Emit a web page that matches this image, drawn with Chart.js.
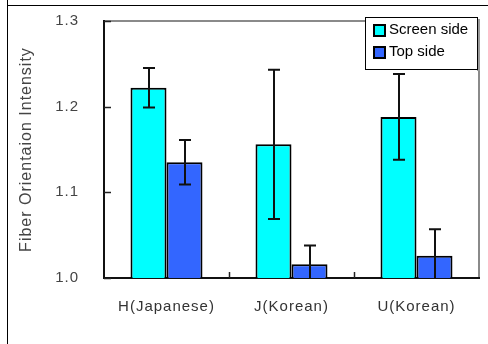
<!DOCTYPE html>
<html><head><meta charset="utf-8">
<script src="https://cdn.jsdelivr.net/npm/chart.js@4.4.1/dist/chart.umd.min.js"></script>
<style>html,body{margin:0;padding:0;background:#fff}#wrap{width:488px;height:344px;position:relative}</style>
</head><body><div id="wrap"><canvas id="c" width="488" height="344"></canvas></div>
<script>
const categories = ['H(Japanese)', 'J(Korean)', 'U(Korean)'];
const seriesNames = ['Screen side', 'Top side'];
const screenSide = [1.222, 1.156, 1.188];
const screenErr = [0.023, 0.087, 0.050];
const topSide = [1.135, 1.016, 1.026];
const topErr = [0.026, 0.022, 0.031];
const yTicks = [1.0, 1.1, 1.2, 1.3];

const errorBars = {
  id: 'errorBars',
  afterDatasetsDraw(chart) {
    const ctx = chart.ctx, y = chart.scales.y, a = chart.chartArea;
    ctx.save();
    ctx.beginPath(); ctx.rect(a.left, a.top - 10, a.right - a.left, a.bottom - a.top + 10); ctx.clip();
    ctx.strokeStyle = '#111'; ctx.lineWidth = 2;
    chart.data.datasets.forEach((ds, di) => {
      const meta = chart.getDatasetMeta(di);
      meta.data.forEach((bar, i) => {
        const v = ds.data[i], e = ds.err[i];
        const x = Math.round(bar.x);
        const yt = y.getPixelForValue(v + e), yb = y.getPixelForValue(v - e);
        ctx.beginPath();
        ctx.moveTo(x, yt); ctx.lineTo(x, yb);
        ctx.moveTo(x - 6, yt); ctx.lineTo(x + 6, yt);
        ctx.moveTo(x - 6, yb); ctx.lineTo(x + 6, yb);
        ctx.stroke();
      });
    });
    ctx.restore();
  }
};

const frame = {
  id: 'frame',
  beforeDraw(chart) {
    const ctx = chart.ctx, a = chart.chartArea;
    ctx.letterSpacing = '1px';
    ctx.save();
    ctx.fillStyle = '#fff'; ctx.fillRect(0, 0, chart.width, chart.height);
    ctx.strokeStyle = '#000'; ctx.lineWidth = 1;
    ctx.beginPath(); ctx.moveTo(7.5, 0); ctx.lineTo(7.5, chart.height); ctx.stroke();
    ctx.beginPath(); ctx.moveTo(7, 5.5); ctx.lineTo(chart.width, 5.5); ctx.stroke();
    ctx.strokeStyle = '#8a8a8a'; ctx.lineWidth = 2;
    ctx.beginPath(); ctx.moveTo(a.left, a.top); ctx.lineTo(a.right, a.top); ctx.lineTo(a.right, a.bottom); ctx.stroke();
    ctx.restore();
  },
  afterDraw(chart) {
    const ctx = chart.ctx, a = chart.chartArea, y = chart.scales.y, x = chart.scales.x;
    ctx.save();
    ctx.letterSpacing = '0px';
    ctx.strokeStyle = '#222'; ctx.lineWidth = 1.5;
    yTicks.forEach(t => {
      const py = Math.round(y.getPixelForValue(t)) + 0.5;
      ctx.beginPath(); ctx.moveTo(a.left, py); ctx.lineTo(a.left + 7, py); ctx.stroke();
    });
    for (let i = 1; i < categories.length; i++) {
      const px = Math.round((x.getPixelForValue(i - 1) + x.getPixelForValue(i)) / 2) + 0.5;
      ctx.beginPath(); ctx.moveTo(px, a.bottom); ctx.lineTo(px, a.bottom - 6); ctx.stroke();
    }
    // legend
    const lx = 365, ly = 17, lw = 112, lh = 52;
    ctx.fillStyle = '#999'; ctx.fillRect(lx + lw, ly + 2, 3, lh);
    ctx.fillStyle = '#fff'; ctx.fillRect(lx, ly, lw, lh);
    ctx.strokeStyle = '#000'; ctx.lineWidth = 1;
    ctx.strokeRect(lx + 0.5, ly + 0.5, lw, lh);
    ctx.font = '15px "Liberation Sans", Arial, sans-serif';
    ctx.textBaseline = 'middle';
    chart.data.datasets.forEach((ds, i) => {
      const cy = ly + 13 + i * 22;
      ctx.fillStyle = ds.backgroundColor;
      ctx.fillRect(374, cy - 5, 11, 11);
      ctx.lineWidth = 2; ctx.strokeStyle = '#000';
      ctx.strokeRect(374, cy - 5, 11, 11);
      ctx.fillStyle = '#000';
      ctx.fillText(ds.label, 389, cy);
    });
    ctx.restore();
  }
};

new Chart(document.getElementById('c'), {
  type: 'bar',
  data: {
    labels: categories,
    datasets: [
      { label: seriesNames[0], data: screenSide, err: screenErr, backgroundColor: '#00FFFF', borderColor: '#000', borderWidth: 2 },
      { label: seriesNames[1], data: topSide, err: topErr, backgroundColor: '#3366FF', borderColor: '#000', borderWidth: 2 }
    ]
  },
  options: {
    responsive: false,
    animation: false,
    devicePixelRatio: 1,
    layout: { padding: { top: 21, right: 9, left: 0, bottom: 0 } },
    plugins: { legend: { display: false }, tooltip: { enabled: false } },
    datasets: { bar: { categoryPercentage: 0.576, barPercentage: 1.0 } },
    scales: {
      x: {
        grid: { display: false, drawTicks: false },
        border: { display: true, color: '#111', width: 2 },
        ticks: { color: '#333', font: { family: '"Liberation Sans", Arial, sans-serif', size: 15 }, padding: 20 },
        afterFit(s) { s.height = 66; s.paddingLeft = 0; s.paddingRight = 0; }
      },
      y: {
        min: 1.0, max: 1.3,
        grid: { display: false, drawTicks: false },
        border: { display: true, color: '#111', width: 2 },
        afterBuildTicks(s) { s.ticks = yTicks.map(v => ({ value: v })); },
        ticks: { color: '#444', font: { family: '"Liberation Sans", Arial, sans-serif', size: 15 }, padding: 25, callback: v => Number(v).toFixed(1) },
        title: { display: true, text: 'Fiber Orientaion Intensity', color: '#444', font: { family: '"Liberation Sans", Arial, sans-serif', size: 16 }, padding: { top: 17, bottom: 0 } },
        afterFit(s) { s.width = 104; s.paddingTop = 0; s.paddingBottom = 0; }
      }
    }
  },
  plugins: [frame, errorBars]
});
</script>
</body></html>
